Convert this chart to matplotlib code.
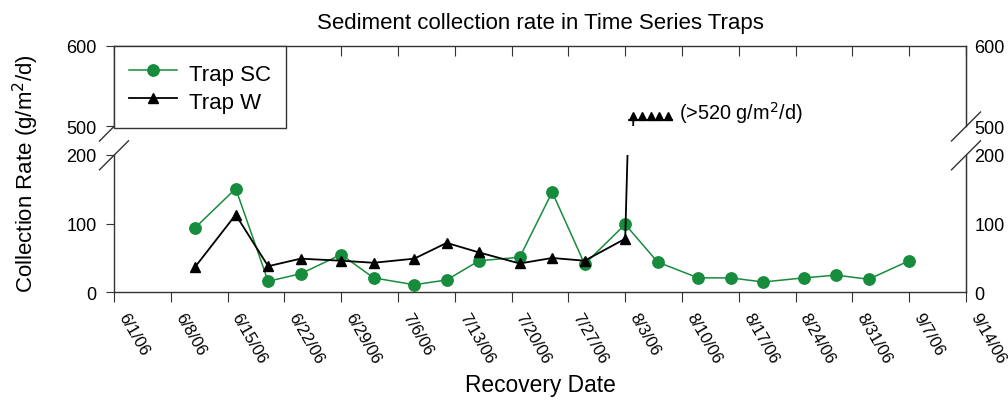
import datetime as dt
import matplotlib
matplotlib.use("Agg")
import matplotlib.pyplot as plt
import matplotlib.dates as mdates
from matplotlib.transforms import ScaledTranslation

plt.rcParams['font.family'] = ['Liberation Sans', 'DejaVu Sans']

# recovery dates (2006) and collection rates, g/m2/d
sc_dates = ["2006-06-11", "2006-06-16", "2006-06-20", "2006-06-24", "2006-06-29",
            "2006-07-03", "2006-07-08", "2006-07-12", "2006-07-16", "2006-07-21",
            "2006-07-25", "2006-07-29", "2006-08-03", "2006-08-07", "2006-08-12",
            "2006-08-16", "2006-08-20", "2006-08-25", "2006-08-29", "2006-09-02",
            "2006-09-07"]
sc_rate = [94, 151, 16, 27, 55, 21, 11, 18, 46, 51, 146, 41, 99, 44, 21, 21, 15, 21, 25, 19, 46]

w_dates = ["2006-06-11", "2006-06-16", "2006-06-20", "2006-06-24", "2006-06-29",
           "2006-07-03", "2006-07-08", "2006-07-12", "2006-07-16", "2006-07-21",
           "2006-07-25", "2006-07-29", "2006-08-03", "2006-08-04"]
w_rate = [37, 113, 38, 49, 46, 43, 49, 72, 58, 42, 50, 46, 78, 508]   # last one off scale

tick_labels = ["6/1/06", "6/8/06", "6/15/06", "6/22/06", "6/29/06", "7/6/06", "7/13/06",
               "7/20/06", "7/27/06", "8/3/06", "8/10/06", "8/17/06", "8/24/06", "8/31/06",
               "9/7/06", "9/14/06"]

green = '#178c3c'
dark = '#333333'
to_date = lambda s: dt.datetime.strptime(s, "%Y-%m-%d")
sc_x = [to_date(d) for d in sc_dates]
w_x = [to_date(d) for d in w_dates]
tick_x = [to_date("2006-06-01") + dt.timedelta(days=7 * i) for i in range(len(tick_labels))]

W, H = 1008, 402
fig = plt.figure(figsize=(W / 100, H / 100), dpi=100)
x0, x1 = 114, 966
ax_lo = fig.add_axes([x0 / W, (H - 293.3) / H, (x1 - x0) / W, (293.3 - 156) / H])
ax_hi = fig.add_axes([x0 / W, (H - 127.3) / H, (x1 - x0) / W, (127.3 - 46.7) / H])

for ax in (ax_lo, ax_hi):
    ax.plot(sc_x, sc_rate, color=green, lw=1.1, marker='o', ms=8.2, mec=green, mfc=green,
            label='Trap SC', zorder=3)
    ax.plot(w_x[:-1], w_rate[:-1], color='black', lw=1.3, marker='^', ms=7.8,
            label='Trap W', zorder=4)
    ax.plot(w_x[-2:], w_rate[-2:], color='black', lw=1.3, zorder=4)
    ax.set_xlim(tick_x[0], tick_x[-1])
    for s in ax.spines.values():
        s.set_color(dark)
        s.set_linewidth(1.0)
    ax.tick_params(axis='y', left=True, right=False, labelleft=True, labelsize=13,
                   direction='out', length=6, pad=6.5, color=dark)

# lower panel 0-200
ax_lo.set_ylim(0, 200)
ax_lo.set_yticks([0, 100, 200])
ax_lo.spines['top'].set_visible(False)
ax_lo.set_xticks(tick_x)
ax_lo.set_xticklabels(tick_labels, rotation=-60, ha='left', va='baseline',
                      rotation_mode='anchor', fontsize=12)
ax_lo.tick_params(axis='x', direction='out', length=7, pad=10, color=dark)
shift = ScaledTranslation(4.0 / 100, 0, fig.dpi_scale_trans)
for lab in ax_lo.get_xticklabels():
    lab.set_transform(lab.get_transform() + shift)

# upper panel 500-600
ax_hi.set_ylim(500, 600)
ax_hi.set_yticks([500, 600])
ax_hi.spines['bottom'].set_visible(False)
ax_hi.set_xticks(tick_x)
ax_hi.tick_params(axis='x', bottom=False, top=True, labelbottom=False, direction='in',
                  length=7, color=dark)

# right-hand labels, no ticks
for ax, ticks in ((ax_lo, [0, 100, 200]), (ax_hi, [500, 600])):
    sec = ax.secondary_yaxis('right')
    sec.set_yticks(ticks)
    sec.tick_params(length=0, pad=6, labelsize=13)
    sec.spines['right'].set_color(dark)

# off-scale marker for Trap W
mk_x = mdates.date2num(w_x[-1])
mk_y = w_rate[-1]
flag = [mk_x + 1.07 * k for k in range(5)]
ax_hi.plot(flag, [mk_y + 5] * 5, ls='none', marker='^', ms=6, color='black', zorder=4)
ax_hi.plot([flag[0] - 0.5, flag[-1] + 0.5], [mk_y, mk_y], color='black', lw=1.3, zorder=4)
ax_hi.text(mk_x + 5.6, mk_y + 1, '(>520 g/m$^2$/d)', fontsize=14.3, ha='left',
           va='baseline')

# axis break marks
for (px, py, ax) in [(x0, 127.5, ax_hi), (x1, 127.5, ax_hi), (x0, 156.3, ax_lo), (x1, 156.3, ax_lo)]:
    ax.plot([(px - 14.5) / W, (px + 14.5) / W], [(H - py - 14.5) / H, (H - py + 14.5) / H],
            transform=fig.transFigure, clip_on=False, color=dark, lw=1.0, zorder=2.5)

leg = ax_hi.legend(loc='upper left', bbox_to_anchor=(0, 1), borderaxespad=0, fancybox=False,
                   edgecolor=dark, framealpha=1, fontsize=16, handlelength=2.15,
                   handleheight=1.25, handletextpad=0.55, borderpad=0.68, labelspacing=0.15)
leg.get_frame().set_linewidth(1.0)
leg.set_zorder(10)

fig.text(540 / W, (H - 29) / H, 'Sediment collection rate in Time Series Traps',
         ha='center', va='baseline', fontsize=16)
fig.text(540 / W, (H - 392) / H, 'Recovery Date', ha='center', va='baseline', fontsize=16.4)
fig.text(33 / W, (H - 293) / H, 'Collection Rate (g/m$^2$/d)', ha='left', va='baseline',
         rotation=90, rotation_mode='anchor', fontsize=16)

fig.savefig('out.png', dpi=100)
